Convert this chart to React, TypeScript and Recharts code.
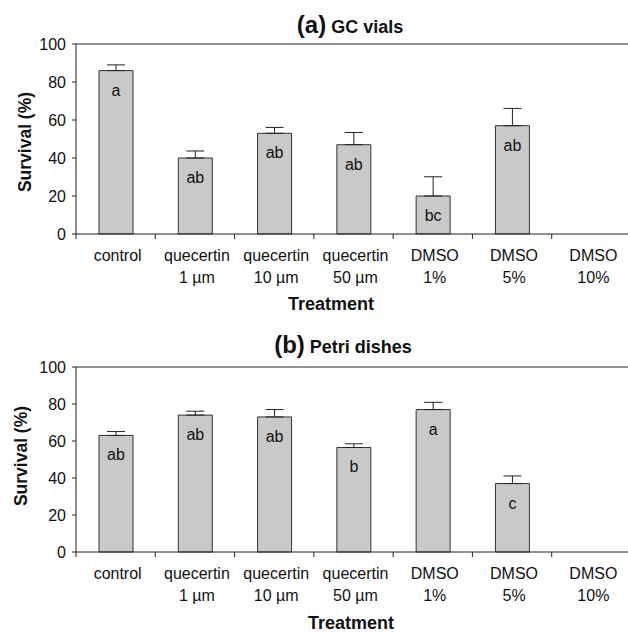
import React from 'react';
import { BarChart, Bar, XAxis, YAxis, ErrorBar, LabelList, ReferenceLine } from 'recharts';

const categories = ['control', 'quecertin\n1 µm', 'quecertin\n10 µm', 'quecertin\n50 µm', 'DMSO\n1%', 'DMSO\n5%', 'DMSO\n10%'];

// (a) GC vials
const gcSurvival = [86, 40, 53, 47, 20, 57, 0];
const gcError = [3, 3.7, 3.1, 6.4, 10.1, 9.1, 0];
const gcLetters = ['a', 'ab', 'ab', 'ab', 'bc', 'ab', ''];

// (b) Petri dishes
const petriSurvival = [63, 74, 73, 56.5, 77, 37, 0];
const petriError = [2.1, 2.1, 4, 2, 3.9, 4.1, 0];
const petriLetters = ['ab', 'ab', 'ab', 'b', 'a', 'c', ''];

const yTicks = [0, 20, 40, 60, 80, 100];

const FONT = '"Liberation Sans", Arial, Helvetica, sans-serif';
const CHART_W = 631;
const YAXIS_W = 76;
const BAND = (CHART_W - YAXIS_W) / categories.length;

const CategoryTick = (props: any) => {
  const { x, y, payload } = props;
  const lines = String(payload.value).split('\n');
  const left = x - BAND / 2;
  return (
    <g>
      <line x1={left} y1={y} x2={left} y2={y + 5} stroke="#222" strokeWidth={1} />
      {lines.map((l, i) => (
        <text key={i} x={x + 2} y={y + 27 + i * 22} textAnchor="middle" fontSize={16} fontFamily={FONT} fill="#111">
          {l}
        </text>
      ))}
    </g>
  );
};

const LetterLabel = (props: any) => {
  const { x, y, width, value } = props;
  if (!value) return null;
  return (
    <text x={x + width / 2} y={y + 25} textAnchor="middle" fontSize={16} fontFamily={FONT} fill="#111">
      {value}
    </text>
  );
};

interface PanelProps {
  survival: number[];
  errors: number[];
  letters: string[];
  height: number;
  marginTop: number;
  xAxisHeight: number;
}

const Panel: React.FC<PanelProps> = ({ survival, errors, letters, height, marginTop, xAxisHeight }) => {
  const data = categories.map((c, i) => ({
    name: c,
    survival: survival[i],
    err: [0, errors[i]],
    letter: letters[i],
  }));
  return (
    <BarChart width={CHART_W} height={height} data={data} margin={{ top: marginTop, right: 0, bottom: 0, left: 0 }} barSize={34}>
      <ReferenceLine y={100} stroke="#222" strokeWidth={1} />
      <XAxis
        dataKey="name"
        height={xAxisHeight}
        interval={0}
        tickLine={false}
        tickSize={0}
        tickMargin={0}
        axisLine={{ stroke: '#222' }}
        tick={<CategoryTick />}
      />
      <YAxis
        width={YAXIS_W}
        domain={[0, 100]}
        ticks={yTicks}
        tickSize={4}
        tickMargin={6}
        axisLine={{ stroke: '#222' }}
        tickLine={{ stroke: '#222' }}
        tick={{ fontSize: 16, fontFamily: FONT, fill: '#111' }}
      />
      <Bar dataKey="survival" fill="#c9c9c9" stroke="#333" strokeWidth={1} isAnimationActive={false}>
        <ErrorBar dataKey="err" width={9} stroke="#222" strokeWidth={1} direction="y" isAnimationActive={false} />
        <LabelList dataKey="letter" content={<LetterLabel />} />
      </Bar>
    </BarChart>
  );
};

const Overlay = () => (
  <svg width={628} height={632} style={{ position: 'absolute', left: 0, top: 0, pointerEvents: 'none' }}>
    <text x={350} y={33} textAnchor="middle" fontFamily={FONT} fontWeight="bold" fill="#111">
      <tspan fontSize={24}>(a)</tspan>
      <tspan fontSize={18}> GC vials</tspan>
    </text>
    <text x={331} y={310} textAnchor="middle" fontFamily={FONT} fontWeight="bold" fontSize={18} fill="#111">
      Treatment
    </text>
    <text transform="translate(31,142) rotate(-90)" textAnchor="middle" fontFamily={FONT} fontWeight="bold" fontSize={17.5} fill="#111">
      Survival (%)
    </text>

    <text x={343} y={353} textAnchor="middle" fontFamily={FONT} fontWeight="bold" fill="#111">
      <tspan fontSize={24}>(b)</tspan>
      <tspan fontSize={18}> Petri dishes</tspan>
    </text>
    <text x={351} y={629} textAnchor="middle" fontFamily={FONT} fontWeight="bold" fontSize={18} fill="#111">
      Treatment
    </text>
    <text transform="translate(27,456) rotate(-90)" textAnchor="middle" fontFamily={FONT} fontWeight="bold" fontSize={17.5} fill="#111">
      Survival (%)
    </text>
  </svg>
);

export default function App() {
  return (
    <div style={{ position: 'absolute', left: 0, top: 0, width: 628, height: 632, overflow: 'hidden', background: '#fff' }}>
      <div style={{ position: 'absolute', left: 0, top: 0 }}>
        <Panel survival={gcSurvival} errors={gcError} letters={gcLetters} height={316} marginTop={44} xAxisHeight={82} />
      </div>
      <div style={{ position: 'absolute', left: 0, top: 316 }}>
        <Panel survival={petriSurvival} errors={petriError} letters={petriLetters} height={316} marginTop={51} xAxisHeight={80} />
      </div>
      <Overlay />
    </div>
  );
}
